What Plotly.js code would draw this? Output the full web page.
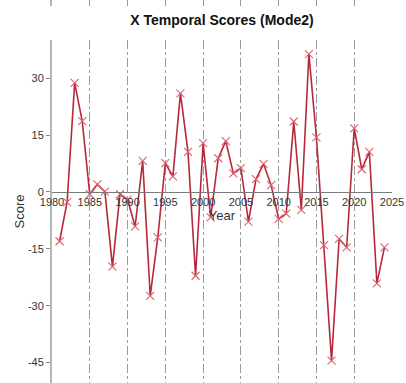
<!DOCTYPE html>
<html>
<head>
<meta charset="utf-8">
<script src="https://cdn.plot.ly/plotly-3.0.1.min.js"></script>
<style>
  html, body { margin: 0; padding: 0; background: #fff; }
  #chart { width: 406px; height: 383px; }
</style>
</head>
<body>
<div id="chart"></div>
<script>
// Annual temporal scores of the second mode
const years = [1981, 1982, 1983, 1984, 1985, 1986, 1987, 1988, 1989, 1990,
               1991, 1992, 1993, 1994, 1995, 1996, 1997, 1998, 1999, 2000,
               2001, 2002, 2003, 2004, 2005, 2006, 2007, 2008, 2009, 2010,
               2011, 2012, 2013, 2014, 2015, 2016, 2017, 2018, 2019, 2020,
               2021, 2022, 2023, 2024];
const scores = [-13.0, -2.7, 28.8, 18.7, -0.6, 2.0, 0.1, -19.7, -0.6, -2.0,
                -9.1, 8.2, -27.4, -12.0, 7.6, 4.1, 26.0, 10.6, -22.1, 12.9,
                -6.7, 8.9, 13.4, 4.9, 6.3, -7.8, 3.4, 7.4, 1.8, -7.1,
                -5.7, 18.6, -4.7, 36.4, 14.4, -14.0, -44.5, -12.4, -14.6, 16.8,
                6.0, 10.6, -24.1, -14.6];

const xTickVals = [1980, 1985, 1990, 1995, 2000, 2005, 2010, 2015, 2020, 2025];
const yTickVals = [30, 15, 0, -15, -30, -45];

const xRange = [1980, 2025];
const yRange = [-50.4, 40.1];

const lineColor = '#b8283a';
const markerColor = '#d9646f';
const gridColor = '#9a9a9a';
const textColor = '#333333';
const FONT = 'Liberation Sans, Arial, sans-serif';

const W = 406, H = 383;
const plotTop = 40;                 // px from the top of the figure
const mainTop = 1 - plotTop / H;    // upper edge of the main panel
const stripBottom = 1 - 6 / H;      // thin strip of the panel above

const trace = {
  x: years,
  y: scores,
  type: 'scatter',
  mode: 'lines+markers',
  line: { color: lineColor, width: 1.6 },
  marker: { symbol: 'x-thin-open', size: 8, line: { color: markerColor, width: 1.1 }, color: markerColor },
  xaxis: 'x',
  yaxis: 'y',
  showlegend: false,
  hoverinfo: 'x+y'
};

// Empty trace that keeps the upper panel's axes drawn
const stripTrace = {
  x: [], y: [], type: 'scatter', mode: 'markers',
  xaxis: 'x2', yaxis: 'y2', showlegend: false
};

const layout = {
  width: W,
  height: H,
  margin: { l: 52, r: 13.6, t: 0, b: 0, pad: 0 },
  paper_bgcolor: '#ffffff',
  plot_bgcolor: '#ffffff',
  font: { family: FONT, color: textColor, size: 11 },
  title: {
    text: '<b>X Temporal Scores (Mode2)</b>',
    font: { family: FONT, size: 14, color: '#111111' },
    xref: 'paper', x: 0.5, xanchor: 'center',
    yref: 'container', y: 1 - 20 / H, yanchor: 'middle'
  },
  xaxis: {
    range: xRange,
    tickvals: xTickVals,
    ticktext: xTickVals.map(String),
    anchor: 'free',
    position: (0 - yRange[0]) / (yRange[1] - yRange[0]) * mainTop,
    domain: [0, 1],
    showline: true,
    linecolor: '#7a7a7a',
    linewidth: 1,
    ticks: '',
    showgrid: true,
    gridcolor: gridColor,
    gridwidth: 1,
    griddash: 'dashdot',
    zeroline: false,
    tickfont: { family: FONT, size: 11, color: textColor },
    title: { text: 'Year', font: { family: FONT, size: 13, color: textColor }, standoff: 3 }
  },
  yaxis: {
    range: yRange,
    domain: [0, mainTop],
    tickvals: yTickVals,
    ticktext: yTickVals.map(String),
    showline: true,
    linecolor: '#b5b5b5',
    linewidth: 2,
    ticks: 'outside',
    ticklen: 4,
    tickcolor: '#8a8a8a',
    showgrid: false,
    zeroline: false,
    tickfont: { family: FONT, size: 11, color: textColor },
    title: { text: 'Score', font: { family: FONT, size: 13, color: textColor }, standoff: 0 }
  },
  xaxis2: {
    range: xRange,
    tickvals: xTickVals,
    anchor: 'y2',
    showticklabels: false,
    ticks: '',
    showline: false,
    showgrid: true,
    gridcolor: gridColor,
    griddash: 'dashdot',
    zeroline: false
  },
  yaxis2: {
    range: [0, 1],
    domain: [stripBottom, 1],
    anchor: 'x2',
    showticklabels: false,
    ticks: '',
    showline: true,
    linecolor: '#b5b5b5',
    linewidth: 2,
    showgrid: false,
    zeroline: false
  }
};

Plotly.newPlot('chart', [trace, stripTrace], layout, { displayModeBar: false, staticPlot: true });
</script>
</body>
</html>
